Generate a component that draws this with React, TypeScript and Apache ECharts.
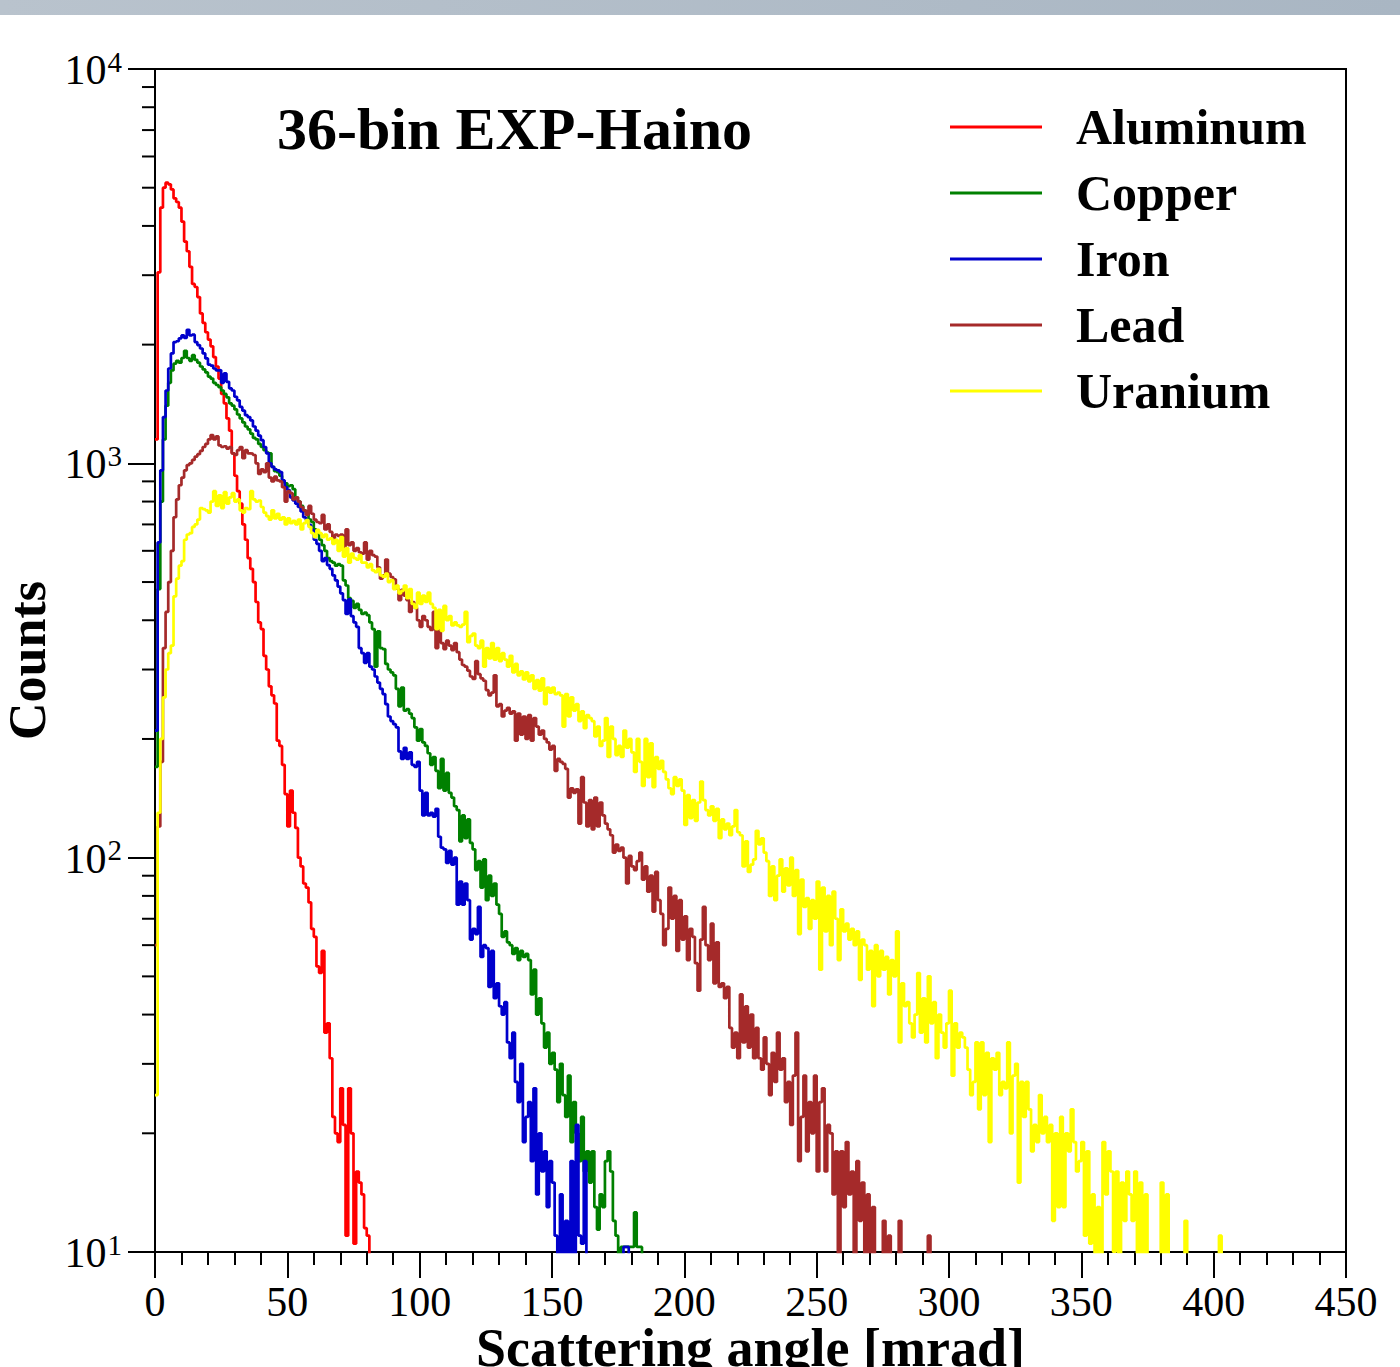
import React, { useEffect, useRef } from "react";
import * as echarts from "echarts";

const FONT = "'Liberation Serif', 'Times New Roman', serif";

// bin width in mrad; every series starts at 0 mrad
const binWidth = 1;

const seriesNames = ["Aluminum", "Copper", "Iron", "Lead", "Uranium"];
const seriesColors = ["#ff0000", "#008000", "#0000cc", "#a52a2a", "#ffff00"];

const aluminum = [
  1150, 3050, 4450, 5000, 5150, 5100, 4950, 4700, 4600, 4450,
  4100, 3650, 3450, 3150, 2850, 2800, 2640, 2400, 2270, 2150,
  2060, 1980, 1860, 1760, 1640, 1500, 1420, 1300, 1210, 1060,
  930, 850, 790, 700, 640, 575, 540, 500, 445, 395,
  380, 325, 300, 272, 258, 246, 198, 192, 172, 145,
  120, 148, 130, 119, 100, 95, 86, 84, 77, 66,
  63, 53, 51, 58, 36, 38, 31, 22, 20, 19,
  26, 21, 11, 26, 20, 10.5, 16, 15, 14, 11.5,
  11, 5,
];

const copper = [
  170, 480, 800, 1150, 1400, 1600, 1720, 1790, 1820, 1800,
  1850, 1930, 1850, 1820, 1880, 1830, 1800, 1760, 1730, 1700,
  1660, 1640, 1600, 1580, 1560, 1530, 1500, 1470, 1420, 1400,
  1370, 1330, 1300, 1270, 1240, 1220, 1190, 1160, 1150, 1120,
  1100, 1080, 1065, 1060, 980, 955, 950, 930, 900, 890,
  875, 880, 860, 820, 800, 780, 760, 750, 720, 710,
  680, 665, 640, 620, 600, 575, 565, 560, 550, 555,
  550, 505, 490, 455, 448, 430, 440, 425, 415, 418,
  412, 395, 380, 305, 375, 340, 338, 310, 300, 295,
  290, 268, 242, 270, 236, 238, 232, 226, 214, 198,
  212, 196, 192, 184, 172, 180, 166, 150, 178, 148,
  164, 146, 142, 135, 132, 110, 128, 112, 125, 109,
  105, 93, 98, 84, 99, 78, 90, 80, 86, 76,
  72, 63, 65, 61, 60, 57, 59, 55, 58, 56,
  57, 55, 45, 52, 40, 44, 38, 33, 36, 30,
  32, 29, 24, 30, 25, 22, 28, 19, 24, 20,
  17, 22, 16, 18, 15, 18, 13, 11.4, 14, 13,
  17, 18, 16, 12, 11, 8, 10.3, 10.3, 10.3, 10.3,
  10.3, 12.6, 10.3, 10.3, 5,
];

const iron = [
  210, 630, 960, 1310, 1530, 1740, 1900, 2030, 2040, 2075,
  2110, 2080, 2180, 2110, 2120, 2030, 1995, 1955, 1900, 1845,
  1780, 1770, 1740, 1720, 1725, 1600, 1690, 1610, 1550, 1530,
  1475, 1445, 1390, 1360, 1325, 1310, 1285, 1240, 1210, 1175,
  1145, 1100, 1060, 1000, 980, 965, 960, 950, 905, 870,
  855, 820, 805, 790, 775, 755, 730, 718, 698, 678,
  640, 625, 600, 565, 575, 552, 540, 520, 505, 487,
  468, 450, 415, 452, 410, 395, 385, 340, 330, 312,
  330, 305, 300, 288, 278, 268, 260, 245, 228, 222,
  218, 214, 186, 178, 190, 178, 185, 172, 170, 175,
  148, 128, 146, 128, 130, 127, 133, 113, 106, 105,
  97, 104, 96, 100, 76, 87, 76, 86, 78, 62,
  66, 64, 75, 56, 60, 59, 47, 58, 44, 48,
  42, 40, 43, 34, 31, 36, 27, 24, 30, 19,
  22, 24, 17, 26, 14, 20, 16, 18, 13, 17,
  15, 11, 8, 14, 9, 12, 8, 17, 9, 21,
  11, 10.5, 17, 9, 8, 7, 6, 5, 5, 5,
  5, 5, 5, 5, 5, 5, 5, 10.3, 10.3, 5,
];

const lead = [
  60, 120, 175, 340, 420, 500, 600, 730, 810, 880,
  920, 960, 990, 1000, 1020, 1040, 1055, 1075, 1100, 1120,
  1150, 1180, 1150, 1170, 1110, 1100, 1105, 1090, 1100, 1060,
  1050, 1080, 1100, 1030, 1080, 1060, 1058, 1050, 1000, 940,
  965, 950, 1000, 920, 900, 925, 905, 900, 870, 800,
  850, 840, 810, 820, 800, 775, 760, 740, 780, 745,
  720, 710, 705, 740, 680, 700, 670, 645, 660, 655,
  660, 610, 680, 620, 630, 600, 610, 595, 590, 630,
  570, 600, 585, 580, 545, 510, 520, 570, 525, 515,
  508, 482, 450, 478, 462, 450, 420, 445, 430, 400,
  385, 410, 400, 385, 378, 420, 340, 400, 350, 338,
  355, 345, 336, 350, 332, 318, 308, 305, 298, 288,
  284, 315, 292, 285, 281, 266, 258, 262, 290, 242,
  245, 228, 236, 240, 232, 235, 198, 232, 205, 228,
  200, 230, 198, 226, 215, 205, 210, 200, 196, 188,
  192, 166, 178, 175, 173, 168, 142, 150, 146, 149,
  122, 160, 138, 120, 140, 118, 142, 120, 138, 128,
  122, 118, 114, 103, 108, 104, 106, 100, 86, 101,
  95, 93, 98, 103, 88, 95, 82, 90, 73, 92,
  78, 72, 60, 66, 84, 70, 80, 58, 78, 62,
  71, 55, 66, 63, 54, 46, 62, 75, 60, 55,
  68, 48, 61, 47, 48, 44, 47, 37, 33, 36,
  31, 45, 34, 42, 33, 40, 31, 37, 31, 29,
  35, 30, 25, 32, 27, 36, 29, 31, 24, 27,
  21, 28, 36, 17, 22, 28, 18, 24, 20, 28,
  16, 24, 26, 16, 21, 20, 14, 18, 8, 18,
  13, 19, 14, 16, 8, 17, 12, 15, 9, 14,
  8, 13, 9, 8, 7, 12, 9, 11, 8, 7,
  6, 12, 8, 6, 5, 5, 5, 5, 5, 5,
  5, 5, 11, 5,
];

const uranium = [
  25, 130, 200, 255, 300, 330, 345, 460, 510, 550,
  565, 640, 660, 665, 690, 700, 720, 770, 765, 760,
  750, 800, 850, 780, 830, 770, 845, 790, 820, 840,
  800, 810, 760, 750, 770, 765, 850, 810, 800, 805,
  775, 750, 735, 720, 760, 725, 745, 720, 730, 700,
  725, 705, 715, 700, 720, 680, 705, 718, 690, 665,
  650, 678, 665, 650, 660, 640, 645, 625, 640, 600,
  650, 580, 610, 560, 590, 575, 570, 585, 560, 560,
  545, 555, 535, 530, 540, 520, 515, 525, 500, 506,
  480, 490, 468, 475, 490, 455, 480, 440, 430, 470,
  440, 462, 445, 470, 440, 430, 380, 425, 376, 435,
  400, 410, 388, 395, 388, 385, 390, 420, 352, 365,
  370, 345, 340, 355, 305, 340, 320, 350, 318, 340,
  315, 330, 318, 305, 325, 295, 310, 290, 297, 283,
  295, 280, 290, 268, 282, 265, 285, 245, 270, 262,
  270, 260, 262, 258, 215, 260, 228, 255, 236, 245,
  222, 235, 213, 230, 226, 222, 203, 215, 192, 198,
  226, 180, 215, 200, 182, 192, 180, 210, 190, 200,
  185, 165, 200, 175, 152, 200, 160, 195, 151, 180,
  168, 176, 165, 158, 150, 145, 160, 152, 158, 148,
  121, 144, 126, 140, 124, 138, 156, 140, 132, 128,
  135, 124, 133, 112, 125, 118, 122, 114, 120, 132,
  116, 114, 95, 110, 92, 96, 99, 117, 108, 112,
  103, 98, 80, 95, 78, 90, 99, 82, 94, 85,
  100, 80, 93, 64, 88, 75, 79, 66, 78, 70,
  87, 52, 84, 65, 80, 60, 82, 70, 55, 74,
  65, 68, 62, 66, 60, 65, 49, 62, 60, 52,
  58, 42, 60, 50, 58, 52, 56, 45, 55, 50,
  65, 34, 48, 42, 43, 38, 35, 40, 51, 36,
  44, 34, 50, 38, 43, 31, 40, 36, 33, 38,
  46, 28, 38, 33, 36, 35, 33, 29, 25, 27,
  34, 23, 34, 25, 32, 19, 31, 29, 32, 25,
  27, 26, 34, 20, 28, 30, 15, 27, 22, 27,
  23, 18, 21, 19, 25, 20, 22, 19, 21, 12,
  20, 13, 22, 13, 20, 18, 23, 19, 16, 17,
  19, 11, 18, 10.5, 14, 8, 13, 9, 19, 14,
  18, 16, 10, 16, 9, 15, 12, 16, 14, 12,
  16, 8, 15, 8, 14, 9, 7, 6, 8, 7,
  15, 8, 14, 9, 5, 5, 5, 5, 5, 12,
  8, 5, 5, 5, 5, 5, 5, 5, 5, 5,
  5, 5, 11, 5,
];

const seriesValues = [aluminum, copper, iron, lead, uranium];

const xTickInterval = 50;
const yMinorTicks = [20, 30, 40, 50, 60, 70, 80, 90, 200, 300, 400, 500, 600, 700, 800, 900, 2000, 3000, 4000, 5000, 6000, 7000, 8000, 9000];

const titleText = "36-bin EXP-Haino";
const xTitle = "Scattering angle [mrad]";
const yTitle = "Counts";

function toSteps(values: number[]) {
  const pts = values.map((v, i) => [i * binWidth, v]);
  pts.push([values.length * binWidth, values[values.length - 1]]);
  return pts;
}

export default function App() {
  const ref = useRef<HTMLDivElement>(null);
  useEffect(() => {
    if (!ref.current) return;
    const chart = echarts.init(ref.current, null, { renderer: "svg" });
    const lineSeries = seriesValues.map((vals, k) => ({
      name: seriesNames[k],
      type: "line",
      step: "end",
      data: toSteps(vals),
      symbol: "none",
      showSymbol: false,
      color: seriesColors[k],
      lineStyle: { color: seriesColors[k], width: 2.7 },
      clip: true,
      z: 3 + k * 0.01,
      silent: true,
    }));
    chart.setOption({
      animation: false,
      backgroundColor: "#ffffff",
      graphic: [
        {
          type: "rect",
          left: 0,
          top: 0,
          shape: { width: 1400, height: 15 },
          style: {
            fill: new echarts.graphic.LinearGradient(0, 0, 1, 0, [
              { offset: 0, color: "#b9c3cd" },
              { offset: 1, color: "#a9b6c3" },
            ]),
          },
          z: -1,
        },
      ],
      title: {
        text: titleText,
        left: 272,
        top: 94,
        textStyle: { fontFamily: FONT, fontWeight: "bold", fontSize: 60, lineHeight: 60, color: "#000" },
      },
      legend: {
        orient: "vertical",
        left: 945,
        top: 97,
        itemWidth: 92,
        itemHeight: 3,
        itemGap: 16,
        icon: "rect",
        data: seriesNames,
        formatter: (name: string) => `{s|}${name}`,
        textStyle: {
          fontFamily: FONT,
          fontWeight: "bold",
          fontSize: 50,
          lineHeight: 49,
          color: "#000",
          rich: { s: { width: 29 } },
        },
      },
      grid: {
        left: 155,
        top: 69,
        width: 1191,
        height: 1183,
        outerBoundsMode: "none",
        containLabel: false,
        show: true,
        borderColor: "#000",
        borderWidth: 2,
        backgroundColor: "transparent",
      },
      xAxis: {
        type: "value",
        min: 0,
        max: 450,
        interval: xTickInterval,
        name: xTitle,
        nameLocation: "middle",
        nameGap: 73,
        nameMoveOverlap: false,
        nameTextStyle: { fontFamily: FONT, fontWeight: "bold", fontSize: 54, lineHeight: 46, color: "#000" },
        axisLine: { show: true, onZero: false, lineStyle: { color: "#000", width: 2 } },
        axisTick: { show: true, inside: false, length: 26, lineStyle: { color: "#000", width: 2 } },
        minorTick: { show: true, splitNumber: 5, length: 13, lineStyle: { color: "#000", width: 2 } },
        splitLine: { show: false },
        minorSplitLine: { show: false },
        axisLabel: { fontFamily: FONT, fontSize: 42, lineHeight: 32, color: "#000", margin: 34 },
      },
      yAxis: {
        type: "log",
        logBase: 10,
        min: 10,
        max: 10000,
        name: yTitle,
        nameLocation: "middle",
        nameGap: 102,
        nameTextStyle: { fontFamily: FONT, fontWeight: "bold", fontSize: 52, lineHeight: 51, color: "#000" },
        axisLine: { show: true, lineStyle: { color: "#000", width: 2 } },
        axisTick: { show: true, inside: false, length: 27, lineStyle: { color: "#000", width: 2 } },
        splitLine: { show: false },
        axisLabel: {
          margin: 33,
          formatter: (v: number) => `{b|10}{sup|${Math.round(Math.log10(v))}}`,
          rich: {
            b: { fontFamily: FONT, fontSize: 42, color: "#000", lineHeight: 44, verticalAlign: "bottom" },
            sup: { fontFamily: FONT, fontSize: 29, color: "#000", lineHeight: 44, verticalAlign: "top", padding: [0, 0, 0, 1] },
          },
        },
      },
      series: [
        ...lineSeries,
        {
          type: "custom",
          name: "minorTicks",
          coordinateSystem: "cartesian2d",
          data: yMinorTicks.map((v) => [0, v]),
          clip: false,
          silent: true,
          z: 10,
          renderItem: (_params: any, api: any) => {
            const p = api.coord([api.value(0), api.value(1)]);
            return {
              type: "line",
              shape: { x1: p[0] - 13, y1: p[1], x2: p[0], y2: p[1] },
              style: { stroke: "#000", lineWidth: 2 },
            };
          },
        },
      ],
    });
    return () => chart.dispose();
  }, []);
  return (
    <div
      ref={ref}
      style={{ position: "absolute", left: 0, top: 0, width: 1400, height: 1367, background: "#fff" }}
    />
  );
}
